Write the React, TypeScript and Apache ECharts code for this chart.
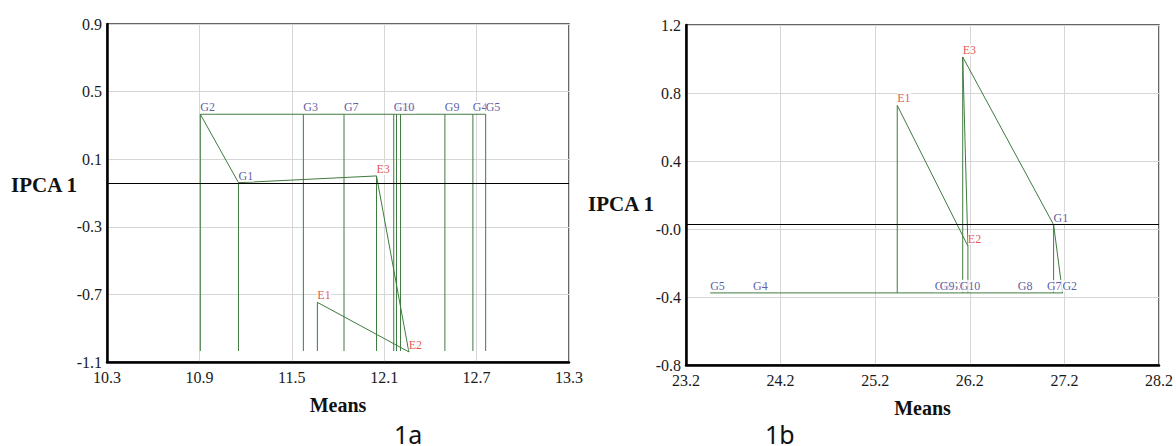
import React, { useEffect, useRef } from "react";
import * as echarts from "echarts";

// ---------- data ----------
const genotypes = ["G1", "G2", "G3", "G4", "G5", "G6", "G7", "G8", "G9", "G10"];
const environments = ["E1", "E2", "E3"];

// Panel 1a
const genoMeans1a = [11.154, 10.906, 11.575, 12.676, 12.759, 12.206, 11.839, 12.18, 12.494, 12.162];
const genoIpca1a = [-0.039, 0.366, 0.366, 0.366, 0.366, 0.366, 0.366, 0.366, 0.366, 0.366];
const envMeans1a = [11.666, 12.26, 12.05];
const envIpca1a = [-0.747, -1.04, 0.001];
const dropLevel1a = -1.035;
const refLine1a = -0.037;
const xTicks1a = [10.3, 10.9, 11.5, 12.1, 12.7, 13.3];
const yTicks1a = [-1.1, -0.7, -0.3, 0.1, 0.5, 0.9];

// Panel 1b
const genoMeans1b = [27.086, 27.18, 25.988, 23.91, 23.456, 25.831, 27.016, 26.708, 25.883, 26.093];
const genoIpca1b = [0.025, -0.376, -0.376, -0.376, -0.376, -0.376, -0.376, -0.376, -0.376, -0.376];
const envMeans1b = [25.433, 26.18, 26.125];
const envIpca1b = [0.727, -0.1, 1.012];
const dropLevel1b = -0.376;
const refLine1b = 0.025;
const xTicks1b = [23.2, 24.2, 25.2, 26.2, 27.2, 28.2];
const yTicks1b = [-0.8, -0.4, 0.0, 0.4, 0.8, 1.2];

const pathOrder = ["G2", "G1", "E3", "E2", "E1"];

// ---------- styles ----------
const GREEN = "#3f7a3f";
const BLUE = "#34348a";
const RED = "#e02a2a";
const SERIF = "Liberation Serif";

function panelSeries(
  idx: number,
  gMeans: number[],
  gIpca: number[],
  eMeans: number[],
  eIpca: number[],
  drop: number,
  ref: number
) {
  const pts: Record<string, [number, number]> = {};
  genotypes.forEach((g, i) => (pts[g] = [gMeans[i], gIpca[i]]));
  environments.forEach((e, i) => (pts[e] = [eMeans[i], eIpca[i]]));

  const series: any[] = [];
  const lineBase = {
    type: "line",
    xAxisIndex: idx,
    yAxisIndex: idx,
    showSymbol: false,
    symbol: "none",
    silent: true,
    lineStyle: { color: GREEN, width: 1 },
    z: 2,
  };

  // horizontal line through the genotypes lying on the common level
  const levelVal = gIpca[1];
  const row = genotypes
    .map((g) => pts[g])
    .filter((p) => Math.abs(p[1] - levelVal) < 1e-9)
    .sort((a, b) => a[0] - b[0]);
  series.push({ ...lineBase, data: row });

  // vertical drops
  [...genotypes, ...environments].forEach((n) => {
    const p = pts[n];
    if (Math.abs(p[1] - drop) > 1e-6) {
      series.push({ ...lineBase, data: [p, [p[0], drop]] });
    }
  });

  // connecting path
  series.push({
    ...lineBase,
    data: pathOrder.map((n) => pts[n]),
    markLine: {
      silent: true,
      symbol: "none",
      label: { show: false },
      lineStyle: { color: "#000", width: 1, type: "solid" },
      data: [{ yAxis: ref }],
      z: 3,
    },
  });

  const labelBase = {
    show: true,
    position: [0, 0],
    align: "left",
    verticalAlign: "bottom",
    offset: [0, -1],
    fontFamily: SERIF,
    fontSize: 12,
    backgroundColor: "#fff",
    padding: [0, 1, 0, 0],
    lineHeight: 12,
  };

  series.push({
    type: "scatter",
    xAxisIndex: idx,
    yAxisIndex: idx,
    symbolSize: 0.1,
    itemStyle: { color: "rgba(0,0,0,0)" },
    silent: true,
    z: 10,
    data: genotypes.map((g) => ({ name: g, value: pts[g] })),
    label: { ...labelBase, color: BLUE, formatter: (p: any) => p.name },
  });
  series.push({
    type: "scatter",
    xAxisIndex: idx,
    yAxisIndex: idx,
    symbolSize: 0.1,
    itemStyle: { color: "rgba(0,0,0,0)" },
    silent: true,
    z: 11,
    data: environments.map((e) => ({ name: e, value: pts[e] })),
    label: { ...labelBase, color: RED, formatter: (p: any) => p.name },
  });
  return series;
}

function step(ticks: number[]) {
  return Math.round((ticks[1] - ticks[0]) * 1000) / 1000;
}

function xAxisFor(idx: number, ticks: number[]) {
  return {
    type: "value",
    gridIndex: idx,
    min: ticks[0],
    max: ticks[ticks.length - 1],
    interval: step(ticks),
    name: "Means",
    nameLocation: "middle",
    nameGap: 33,
    nameTextStyle: { fontFamily: SERIF, fontSize: 20, fontWeight: "bold", color: "#111" },
    axisLine: { show: true, onZero: false, lineStyle: { color: "#000", width: 2.5 } },
    axisTick: { show: false },
    axisLabel: {
      show: true,
      formatter: (v: number) => v.toFixed(1),
      fontFamily: SERIF,
      fontSize: 16,
      color: "#1a1a1a",
      margin: 7,
    },
    splitLine: { show: true, lineStyle: { color: "#d6d6d6", width: 1 } },
  };
}

function yAxisFor(idx: number, ticks: number[], negZero: boolean) {
  return {
    type: "value",
    gridIndex: idx,
    min: ticks[0],
    max: ticks[ticks.length - 1],
    interval: step(ticks),
    axisLine: { show: true, onZero: false, lineStyle: { color: "#000", width: 2.5 } },
    axisTick: { show: false },
    axisLabel: {
      show: true,
      formatter: (v: number) => (negZero && Math.abs(v) < 1e-9 ? "-0.0" : v.toFixed(1)),
      fontFamily: SERIF,
      fontSize: 16,
      color: "#1a1a1a",
      margin: 5,
    },
    splitLine: { show: true, lineStyle: { color: "#d6d6d6", width: 1 } },
  };
}

export default function App() {
  const ref = useRef<HTMLDivElement>(null);
  useEffect(() => {
    if (!ref.current) return;
    const chart = echarts.init(ref.current, undefined, { renderer: "svg" });
    const option: any = {
      animation: false,
      backgroundColor: "#fff",
      textStyle: { fontFamily: SERIF },
      grid: [
        { left: 107, top: 24, width: 462, height: 338, show: true, borderColor: "#333", borderWidth: 1.5, backgroundColor: "transparent" },
        { left: 686, top: 25, width: 477, height: 340, show: true, borderColor: "#333", borderWidth: 1.5, backgroundColor: "transparent" },
      ],
      xAxis: [xAxisFor(0, xTicks1a), xAxisFor(1, xTicks1b)],
      yAxis: [yAxisFor(0, yTicks1a, false), yAxisFor(1, yTicks1b, true)],
      graphic: [
        { type: "text", left: 11, top: 174, style: { text: "IPCA 1", font: `bold 21px ${SERIF}`, fill: "#111" } },
        { type: "text", left: 588, top: 193, style: { text: "IPCA 1", font: `bold 21px ${SERIF}`, fill: "#111" } },
        { type: "text", left: 394, top: 421, style: { text: "1a", font: "25px Noto Sans", fill: "#111" } },
        { type: "text", left: 765, top: 421, style: { text: "1b", font: "25px Noto Sans", fill: "#111" } },
      ],
      series: [
        ...panelSeries(0, genoMeans1a, genoIpca1a, envMeans1a, envIpca1a, dropLevel1a, refLine1a),
        ...panelSeries(1, genoMeans1b, genoIpca1b, envMeans1b, envIpca1b, dropLevel1b, refLine1b),
      ],
    };
    chart.setOption(option);
    return () => chart.dispose();
  }, []);
  return (
    <div
      ref={ref}
      style={{ position: "fixed", left: 0, top: 0, width: 1176, height: 446, background: "#fff" }}
    />
  );
}
